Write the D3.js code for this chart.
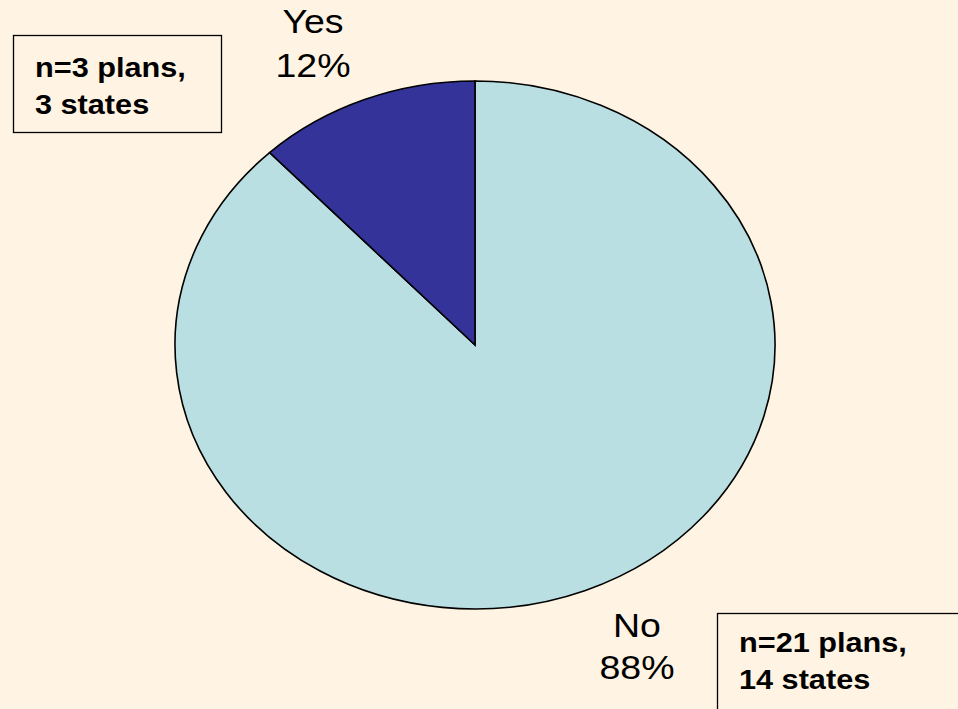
<!DOCTYPE html>
<html>
<head>
<meta charset="utf-8">
<script src="https://cdn.jsdelivr.net/npm/d3@7"></script>
<style>
  html, body { margin: 0; padding: 0; background: #fff4e3; }
  svg { display: block; }
  text { font-family: "Liberation Sans", Arial, Helvetica, sans-serif; fill: #000; }
</style>
</head>
<body>
<svg id="chart" width="958" height="709"></svg>
<script>
// Share of plans answering each way (percent)
const categories = ["No", "Yes"];
const shares = [88, 12];
const sliceColors = ["#b9dfe2", "#333399"];

// Sample-size notes, one box per answer
const yesNote = ["n=3 plans,", "3 states"];
const noNote = ["n=21 plans,", "14 states"];

const W = 958, H = 709;
const cx = 475, cy = 345;
const rx = 300, ry = 264;
const sx = rx / ry; // horizontal stretch of the whole drawing

const svg = d3.select("#chart");
svg.append("rect").attr("width", W).attr("height", H).attr("fill", "#fff4e3");

const data = categories.map((c, i) => ({ label: c, value: shares[i], color: sliceColors[i] }));

const pie = d3.pie().sort(null).value(d => d.value);
const arc = d3.arc().innerRadius(0).outerRadius(ry);

const g = svg.append("g").attr("transform", `translate(${cx},${cy}) scale(${sx},1)`);
g.selectAll("path")
  .data(pie(data))
  .join("path")
  .attr("d", arc)
  .attr("fill", d => d.data.color)
  .attr("stroke", "#000")
  .attr("stroke-width", 1.6)
  .attr("vector-effect", "non-scaling-stroke");

// Text drawn with the same horizontal stretch as the pie
function stretchedText(x, y, str, size, weight, anchor) {
  svg.append("text")
    .attr("transform", `translate(${x},${y}) scale(${sx},1)`)
    .attr("text-anchor", anchor)
    .attr("font-size", size)
    .attr("font-weight", weight)
    .text(str);
}

// Category labels with their percentages
const labelPos = { Yes: [313, 33, 77], No: [637, 637, 679] };
data.forEach(d => {
  const [x, y1, y2] = labelPos[d.label];
  stretchedText(x, y1, d.label, 33, "normal", "middle");
  stretchedText(x, y2, d.value + "%", 33, "normal", "middle");
});

// Note boxes
function noteBox(x, y, w, h, lines, tx, ty) {
  svg.append("rect")
    .attr("x", x).attr("y", y).attr("width", w).attr("height", h)
    .attr("fill", "none").attr("stroke", "#000").attr("stroke-width", 1.3);
  lines.forEach((t, i) => stretchedText(tx, ty + i * 37, t, 27, "bold", "start"));
}
noteBox(13.5, 35.5, 208, 97, yesNote, 35, 77);
noteBox(717.5, 613.5, 260, 120, noNote, 739, 652);
</script>
</body>
</html>
